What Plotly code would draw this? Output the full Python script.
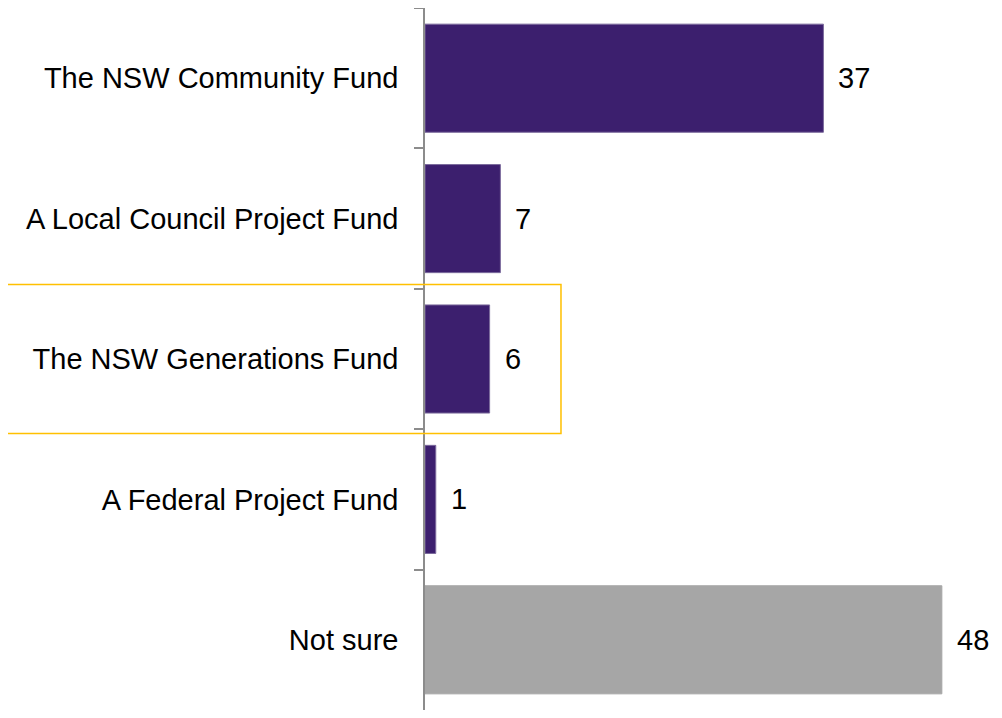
import plotly.graph_objects as go

categories = [
    "The NSW Community Fund",
    "A Local Council Project Fund",
    "The NSW Generations Fund",
    "A Federal Project Fund",
    "Not sure",
]
values = [37, 7, 6, 1, 48]
bar_colors = ["#3C1F6E", "#3C1F6E", "#3C1F6E", "#3C1F6E", "#A6A6A6"]
outline_colors = ["#7B6A9C", "#7B6A9C", "#7B6A9C", "#7B6A9C", "#A6A6A6"]
highlight = "The NSW Generations Fund"

FONT = "Liberation Sans, Arial, sans-serif"

fig = go.Figure(
    go.Bar(
        x=values,
        y=categories,
        orientation="h",
        marker=dict(color=bar_colors, line=dict(color=outline_colors, width=1)),
        hoverinfo="skip",
    )
)

# value labels to the right of each bar
for cat, val in zip(categories, values):
    fig.add_annotation(
        x=val, y=cat, text=str(val), showarrow=False,
        xanchor="left", xshift=13, font=dict(family=FONT, size=29, color="#000000"),
    )

# yellow box round the highlighted category
idx = categories.index(highlight)
fig.add_shape(
    type="rect", xref="paper", yref="y",
    x0=-0.7357, x1=0.2365, y0=idx - 0.53, y1=idx + 0.53,
    line=dict(color="#FFC000", width=1.5), fillcolor="rgba(0,0,0,0)",
)

# the page body has an 8px margin, so keep the figure small enough to avoid scrollbars
fig.update_layout(
    width=994,
    height=702,
    margin=dict(l=417, r=2, t=0, b=0),
    paper_bgcolor="white",
    plot_bgcolor="white",
    bargap=0.23,
    showlegend=False,
    font=dict(family=FONT, size=29, color="#000000"),
    xaxis=dict(range=[0, 53.4], visible=False, showgrid=False, zeroline=False,
               automargin=False),
    yaxis=dict(
        autorange="reversed",
        automargin=False,
        tickson="boundaries",
        ticks="outside",
        ticklen=9,
        tickwidth=1.5,
        tickcolor="#8C8C8C",
        showline=True,
        linecolor="#8C8C8C",
        linewidth=1.5,
        showgrid=False,
        ticklabelstandoff=19,
        tickfont=dict(family=FONT, size=29, color="#000000"),
    ),
)

fig.write_html("out.html")
